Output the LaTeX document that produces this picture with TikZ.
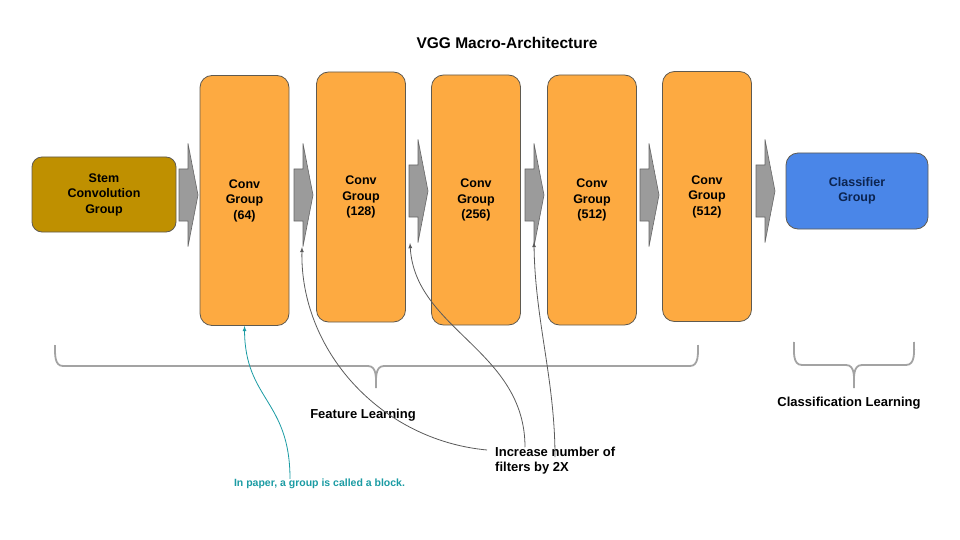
\documentclass[tikz,border=0pt]{standalone}
\usepackage{fontspec}
\setmainfont{Liberation Sans}
\usepackage{xcolor}
\usetikzlibrary{arrows.meta}
\definecolor{convorange}{HTML}{FDAA41}
\definecolor{stemgold}{HTML}{BF9000}
\definecolor{clsblue}{HTML}{4A86E8}
\definecolor{clstext}{HTML}{0C2450}
\definecolor{boxline}{HTML}{5F5A50}
\definecolor{arrgray}{HTML}{9B9B9B}
\definecolor{bracegray}{HTML}{A3A3A3}
\definecolor{noteteal}{HTML}{1A9BA3}
\definecolor{curvegray}{HTML}{5A5A5A}

\begin{document}
\begin{tikzpicture}[x=1pt,y=-1pt,
    grp/.style={draw=boxline,line width=0.8pt,rounded corners=12pt,inner sep=0pt,align=center,
        font=\bfseries\fontsize{12.5}{15.5}\selectfont},
    conv/.style={grp,fill=convorange,minimum width=89pt,minimum height=250pt},
    blockarr/.style={draw=gray!80!black,fill=arrgray,line width=0.6pt},
    brace/.style={draw=bracegray,line width=1.8pt},
    lbl/.style={inner sep=0pt,font=\bfseries\fontsize{13}{15}\selectfont}]
    \useasboundingbox (0,0) rectangle (960,540);
    \node[lbl,font=\bfseries\fontsize{15.5}{18}\selectfont] (title) at (507,43) {VGG Macro-Architecture};
    \node[grp,fill=stemgold,minimum width=144pt,minimum height=75pt,rounded corners=10pt] (stem) at (104,194.5) {Stem\\Convolution\\Group};
    \node[conv] (c1) at (244.5,200.5) {Conv\\Group\\(64)};
    \node[conv] (c2) at (361,197) {Conv\\Group\\(128)};
    \node[conv] (c3) at (476,200) {Conv\\Group\\(256)};
    \node[conv] (c4) at (592,200) {Conv\\Group\\(512)};
    \node[conv] (c5) at (707,196.5) {Conv\\Group\\(512)};
    \node[grp,fill=clsblue,text=clstext,minimum width=142pt,minimum height=76pt] (cls) at (857,191) {Classifier\\Group};
    \foreach \ax/\ay in {179/195,294/195,409/191,525/195,640/195,756/191}
        \draw[blockarr] (\ax,\ay) -- ++(0,-26) -- ++(9,0) -- ++(0,-25.5) -- ++(10,51.5)
            -- ++(-10,51.5) -- ++(0,-25.5) -- ++(-9,0) -- cycle;
    \draw[brace] (55,345) to[out=-90,in=180] (63,366) -- (368,366) to[out=0,in=90] (376,388)
        to[out=90,in=180] (384,366) -- (690,366) to[out=0,in=-90] (698,345);
    \draw[brace] (794,342) to[out=-90,in=180] (802,365) -- (846,365) to[out=0,in=90] (854,388)
        to[out=90,in=180] (862,365) -- (906,365) to[out=0,in=-90] (914,342);
    \node[lbl] (feat) at (363,415) {Feature Learning};
    \node[lbl] (clslearn) at (849,403) {Classification Learning};
    \node[lbl,align=left,anchor=west] (inc) at (495,461) {Increase number of\\filters by 2X};
    \node[inner sep=0pt,text=noteteal,font=\bfseries\fontsize{10.5}{12}\selectfont] (note) at (319.5,484) {In paper, a group is called a block.};
    \draw[-latex,noteteal,line width=0.8pt] ([xshift=-29.5]note.north) .. controls (290,400) and (245,400) .. (c1.south);
    \coordinate (tip1) at (302,247);
    \coordinate (tip2) at (410,243);
    \coordinate (tip3) at (534,242);
    \draw[-latex,curvegray,line width=0.8pt] ([shift={(-8,-11)}]inc.west) .. controls (380,440) and (300,350) .. (tip1);
    \draw[-latex,curvegray,line width=0.8pt] ([xshift=30]inc.north west) .. controls (525,350) and (415,330) .. (tip2);
    \draw[-latex,curvegray,line width=0.8pt] ([shift={(60,-4)}]inc.west) .. controls (555,380) and (535,320) .. (tip3);
\end{tikzpicture}
\end{document}
